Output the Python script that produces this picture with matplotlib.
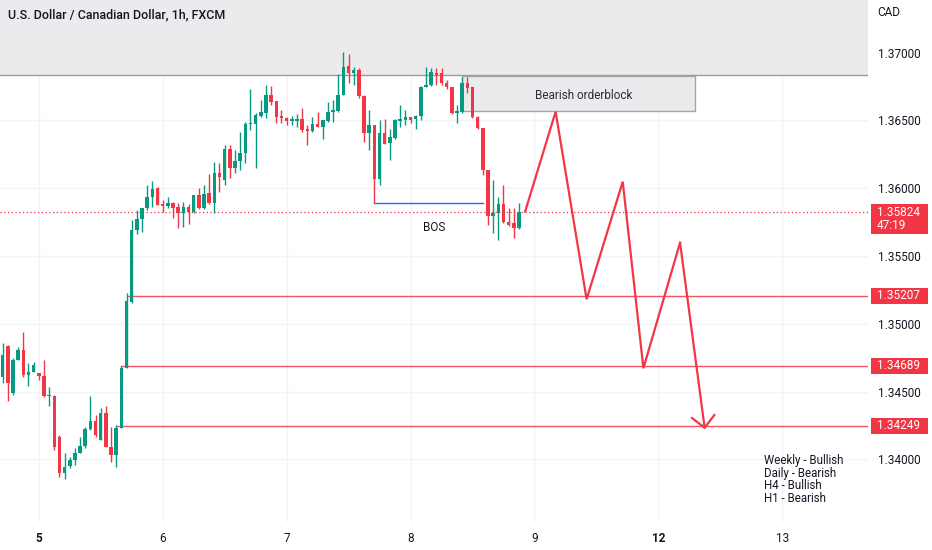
import numpy as np
import matplotlib
matplotlib.use('Agg')
import matplotlib.pyplot as plt
from matplotlib.patches import Rectangle
from matplotlib.transforms import blended_transform_factory

plt.rcParams['font.family'] = ['Roboto', 'DejaVu Sans']

# USD/CAD 1h candles, first bar is 7 hours before the "5" day mark
first_bar = -7
opens = [1.34608, 1.34836, 1.34490, 1.34733, 1.34807, 1.34622, 1.34644, 1.34637, 1.34615, 1.34467,
         1.34467, 1.34165, 1.33900, 1.33951, 1.33995, 1.34047, 1.34099, 1.34224, 1.34283, 1.34143,
         1.34342, 1.34091, 1.34032, 1.34231, 1.34674, 1.35161, 1.35692, 1.35773, 1.35854, 1.35935,
         1.36001, 1.35883, 1.35869, 1.35891, 1.35861, 1.35817, 1.35861, 1.35824, 1.35950, 1.35854,
         1.35965, 1.35891, 1.36112, 1.36060, 1.36289, 1.36149, 1.36201, 1.36260, 1.36473, 1.36473,
         1.36532, 1.36555, 1.36687, 1.36643, 1.36532, 1.36518, 1.36496, 1.36496, 1.36510, 1.36437,
         1.36422, 1.36473, 1.36451, 1.36496, 1.36562, 1.36569, 1.36687, 1.36901, 1.36850, 1.36872,
         1.36680, 1.36407, 1.36466, 1.36068, 1.36407, 1.36333, 1.36370, 1.36496, 1.36503, 1.36525,
         1.36510, 1.36532, 1.36746, 1.36761, 1.36850, 1.36850, 1.36776, 1.36746, 1.36555, 1.36562,
         1.36776, 1.36746, 1.36525, 1.36444, 1.36134, 1.35795, 1.35817, 1.35883, 1.35751, 1.35743,
         1.35706]
highs = [1.34858, 1.34844, 1.34748, 1.34829, 1.34939, 1.34711, 1.34718, 1.34637, 1.34733, 1.34534,
         1.34475, 1.34180, 1.34047, 1.34018, 1.34084, 1.34165, 1.34239, 1.34467, 1.34327, 1.34379,
         1.34394, 1.34239, 1.34254, 1.34689, 1.35227, 1.35765, 1.35839, 1.35854, 1.36024, 1.36053,
         1.36009, 1.35913, 1.35935, 1.35898, 1.35891, 1.35898, 1.35883, 1.35950, 1.36001, 1.36024,
         1.36105, 1.36193, 1.36186, 1.36319, 1.36319, 1.36282, 1.36414, 1.36488, 1.36732, 1.36555,
         1.36650, 1.36761, 1.36754, 1.36643, 1.36577, 1.36525, 1.36532, 1.36547, 1.36591, 1.36466,
         1.36525, 1.36562, 1.36503, 1.36636, 1.36650, 1.36842, 1.37004, 1.36990, 1.36894, 1.36886,
         1.36687, 1.36577, 1.36466, 1.36503, 1.36510, 1.36437, 1.36510, 1.36614, 1.36577, 1.36525,
         1.36540, 1.36754, 1.36894, 1.36886, 1.36886, 1.36886, 1.36798, 1.36746, 1.36614, 1.36820,
         1.36820, 1.36746, 1.36532, 1.36444, 1.36134, 1.36060, 1.35935, 1.36024, 1.35854, 1.35854,
         1.35891]
lows = [1.34563, 1.34431, 1.34475, 1.34733, 1.34608, 1.34541, 1.34644, 1.34585, 1.34460, 1.34394,
        1.34069, 1.33870, 1.33855, 1.33936, 1.33959, 1.34047, 1.34084, 1.34217, 1.34165, 1.34143,
        1.34091, 1.33981, 1.33944, 1.34231, 1.34674, 1.35153, 1.35662, 1.35677, 1.35839, 1.35861,
        1.35876, 1.35824, 1.35854, 1.35780, 1.35706, 1.35714, 1.35736, 1.35817, 1.35847, 1.35847,
        1.35883, 1.35817, 1.35972, 1.36024, 1.36075, 1.36112, 1.36134, 1.36186, 1.36429, 1.36149,
        1.36525, 1.36518, 1.36614, 1.36481, 1.36481, 1.36466, 1.36466, 1.36451, 1.36414, 1.36319,
        1.36414, 1.36451, 1.36363, 1.36488, 1.36488, 1.36562, 1.36687, 1.36776, 1.36761, 1.36665,
        1.36341, 1.36282, 1.35891, 1.36024, 1.36326, 1.36208, 1.36363, 1.36451, 1.36466, 1.36481,
        1.36437, 1.36503, 1.36746, 1.36754, 1.36761, 1.36761, 1.36732, 1.36547, 1.36481, 1.36555,
        1.36702, 1.36518, 1.36437, 1.36097, 1.35729, 1.35670, 1.35618, 1.35743, 1.35721, 1.35633,
        1.35699]
closes = [1.34770, 1.34563, 1.34733, 1.34807, 1.34622, 1.34644, 1.34696, 1.34615, 1.34467, 1.34475,
          1.34091, 1.33900, 1.33944, 1.33995, 1.34047, 1.34099, 1.34224, 1.34283, 1.34180, 1.34342,
          1.34091, 1.34032, 1.34231, 1.34674, 1.35168, 1.35692, 1.35773, 1.35854, 1.35935, 1.35994,
          1.35876, 1.35869, 1.35891, 1.35854, 1.35817, 1.35861, 1.35824, 1.35950, 1.35854, 1.35957,
          1.35891, 1.36112, 1.36083, 1.36289, 1.36149, 1.36201, 1.36260, 1.36473, 1.36481, 1.36540,
          1.36562, 1.36687, 1.36636, 1.36525, 1.36518, 1.36496, 1.36510, 1.36510, 1.36429, 1.36422,
          1.36473, 1.36451, 1.36503, 1.36562, 1.36577, 1.36687, 1.36894, 1.36850, 1.36872, 1.36680,
          1.36407, 1.36466, 1.36068, 1.36407, 1.36326, 1.36378, 1.36503, 1.36510, 1.36525, 1.36503,
          1.36532, 1.36746, 1.36761, 1.36857, 1.36835, 1.36776, 1.36746, 1.36555, 1.36569, 1.36776,
          1.36739, 1.36525, 1.36444, 1.36134, 1.35795, 1.35817, 1.35883, 1.35751, 1.35729, 1.35706,
          1.35824]

last_price = 1.35824
countdown = '47:19'

# target levels (price, bar where the line starts)
levels = [1.35207, 1.34689, 1.34249]
level_start = [17, 16, 15]

# projected path drawn on the chart
proj_x = [94.2, 100.1, 106.1, 113.1, 117.1, 124.2, 129.0]
proj_y = [1.35828, 1.36564, 1.35181, 1.36048, 1.34672, 1.35598, 1.34222]

supply_low = 1.36835
ob_x = [82, 127.1]
ob_y = [1.36569, 1.36827]
bos_x = [65, 86]
bos_price = 1.35893

day_ticks = [0, 24, 48, 72, 96, 120, 144]
day_labels = ['5', '6', '7', '8', '9', '12', '13']
bold_days = ['5', '12']
price_ticks = [1.34, 1.345, 1.35, 1.355, 1.36, 1.365, 1.37]
bias_lines = ['Weekly - Bullish', 'Daily - Bearish', 'H4 - Bullish', 'H1 - Bearish']

UP = '#089981'
DOWN = '#f23645'
TXT = '#131722'

fig = plt.figure(figsize=(9.32, 5.5), dpi=100)
ax = fig.add_axes([0, 28 / 550, 868 / 932, 522 / 550])
ax.set_xlim(-7.51, 160.6)
ax.set_ylim(1.33538, 1.37388)
ppx = (1.37388 - 1.33538) / 522  # price per pixel

for s in ax.spines.values():
    s.set_visible(False)

ax.set_xticks(day_ticks)
ax.set_xticklabels(day_labels)
for lab in ax.get_xticklabels():
    if lab.get_text() in bold_days:
        lab.set_fontweight('bold')
ax.set_yticks(price_ticks)
ax.set_yticklabels(['%.5f' % p for p in price_ticks])
ax.yaxis.tick_right()
ax.tick_params(axis='both', length=0, labelsize=8.5, colors=TXT)
ax.tick_params(axis='y', pad=7)
ax.tick_params(axis='x', pad=7)
ax.grid(True, color='#f0f3fa', lw=1, zorder=0)
ax.set_axisbelow(True)

# top grey zone and bearish orderblock
ax.add_patch(Rectangle((-20, supply_low), 200, 0.02, fc='#ebebee', ec='#9a9a9e', lw=1, zorder=1))
ax.add_patch(Rectangle((ob_x[0], ob_y[0]), ob_x[1] - ob_x[0], ob_y[1] - ob_y[0],
                       fc='#ebebee', ec='#a5a5a8', lw=1, zorder=1))
ax.text((ob_x[0] + ob_x[1]) / 2 + 1, (ob_y[0] + ob_y[1]) / 2 - 2 * ppx, 'Bearish orderblock',
        ha='center', va='center', fontsize=8.5, color='#2a2e39', zorder=2)

# candles
o = np.array(opens); h = np.array(highs); l = np.array(lows); c = np.array(closes)
idx = np.arange(first_bar, first_bar + len(o))
cols = np.where(c >= o, UP, DOWN)
ax.vlines(idx, l, h, colors=cols, lw=1, zorder=3)
body = np.maximum(np.abs(c - o), 0.00003)
ax.bar(idx, body, bottom=np.minimum(o, c), width=0.68, color=cols, zorder=4)

# levels
trans = blended_transform_factory(ax.transAxes, ax.transData)
for p, st in zip(levels, level_start):
    ax.plot([st, 200], [p, p], color=DOWN, lw=1, alpha=0.85, zorder=2)
    ax.add_patch(Rectangle((1 + 3 / 868, p - 8 * ppx), 57 / 868, 16 * ppx, transform=trans,
                           fc=DOWN, ec='none', clip_on=False))
    ax.text(1 + 9 / 868, p, '%.5f' % p, transform=trans, color='white', fontsize=8.5,
            va='center', ha='left', clip_on=False)

# last price
ax.axhline(last_price, color=DOWN, lw=0.9, ls=(0, (1, 2)), zorder=2)
ax.add_patch(Rectangle((1 + 3 / 868, last_price - 22 * ppx), 57 / 868, 30 * ppx, transform=trans,
                       fc=DOWN, ec='none', clip_on=False))
ax.text(1 + 9 / 868, last_price, '%.5f' % last_price, transform=trans, color='white',
        fontsize=8.5, va='center', ha='left', clip_on=False)
ax.text(1 + 9 / 868, last_price - 13 * ppx, countdown, transform=trans, color='white',
        fontsize=8.5, va='center', ha='left', clip_on=False)

# BOS
ax.plot(bos_x, [bos_price, bos_price], color='#2962ff', lw=1, zorder=2)
ax.text(76.5, bos_price - 25 * ppx, 'BOS', ha='center', va='center', fontsize=8.5, color=TXT)

# projected zig-zag
ax.plot(proj_x[:-1], proj_y[:-1], color=DOWN, lw=1.6, zorder=5, solid_joinstyle='miter')
ax.annotate('', xy=(proj_x[-1], proj_y[-1]), xytext=(proj_x[-2], proj_y[-2]),
            arrowprops=dict(arrowstyle='->,head_length=0.55,head_width=0.55', color=DOWN,
                            lw=1.6, shrinkA=0, shrinkB=0, mutation_scale=15), zorder=5)

# bias notes
ax.text(140.5, 1.34040, '\n'.join(bias_lines), ha='left', va='top', fontsize=8.3,
        linespacing=0.97, color=TXT)

# header
fig.text(8 / 932, 1 - 15 / 550, 'U.S. Dollar / Canadian Dollar, 1h, FXCM', fontsize=9,
         fontweight='medium', color=TXT, va='center', ha='left')
fig.text(877 / 932, 1 - 13 / 550, 'CAD', fontsize=8.5, color=TXT, va='center', ha='left')

fig.savefig('out.png', dpi=100)
